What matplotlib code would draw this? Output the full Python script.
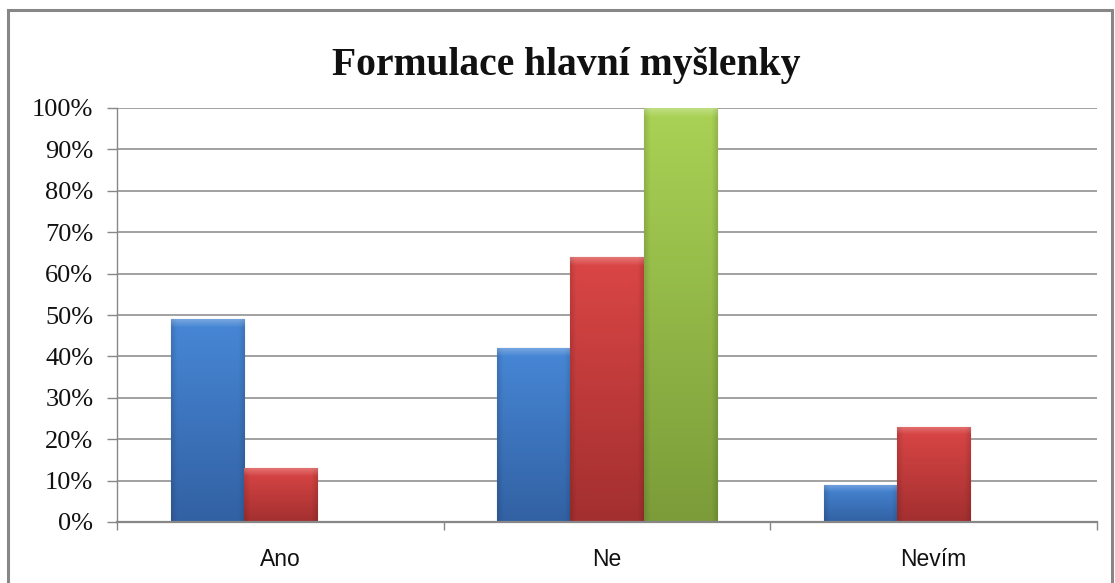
import numpy as np
import matplotlib
matplotlib.use('Agg')
import matplotlib.pyplot as plt
from matplotlib.colors import to_rgb
from matplotlib.patches import Rectangle

# ---- data ----
title = 'Formulace hlavní myšlenky'
categories = ['Ano', 'Ne', 'Nevím']
series_a = [49, 42, 9]     # blue
series_b = [13, 64, 23]    # red
series_c = [0, 100, 0]     # green
yticks = [0, 10, 20, 30, 40, 50, 60, 70, 80, 90, 100]
ytick_labels = [f'{v}%' for v in yticks]

tops = ['#4787D6', '#DB4646', '#A9D255']
bottoms = ['#3261A3', '#A32F2F', '#7B9C39']
edges = ['#2D5A96', '#932A2A', '#6F8D33']

W, H = 1115, 583
fig = plt.figure(figsize=(W / 100, H / 100), dpi=100)
ax = fig.add_axes([117 / W, 1 - 522 / H, (1097 - 117) / W, (522 - 108) / H])

x = np.arange(len(categories))
bw = 0.224
grid_col = '#878787'

for i, vals in enumerate([series_a, series_b, series_c]):
    bars = ax.bar(x + (i - 1) * bw, vals, bw, color=tops[i],
                  edgecolor=edges[i], linewidth=0.8, zorder=3)
    top = np.array(to_rgb(tops[i]))
    bot = np.array(to_rgb(bottoms[i]))
    for b in bars:
        h = b.get_height()
        if h <= 0:
            b.set_visible(False)
            continue
        ny, nx = 200, 60
        t = np.linspace(0, 1, ny)[:, None, None]
        grad = bot + (top - bot) * t
        u = np.linspace(0, 1, nx)
        edge = 1 - 0.12 * (np.clip(1 - np.minimum(u, 1 - u) / 0.08, 0, 1))
        grad = grad * edge[None, :, None]
        # bevel highlight at top
        px_h = h * 4.14
        strip = min(0.5, 8.0 / max(px_h, 1))
        hl = np.clip((t[:, 0, 0] - (1 - strip)) / strip, 0, 1)
        grad = grad + (1 - grad) * (0.25 * hl)[:, None, None]
        grad = np.clip(grad, 0, 1)
        x0, y0 = b.get_x(), b.get_y()
        im = ax.imshow(grad, extent=[x0, x0 + b.get_width(), y0, y0 + h],
                       origin='lower', aspect='auto', interpolation='bilinear',
                       zorder=3.5)
        im.set_clip_path(b)

ax.set_xlim(-0.5, len(categories) - 0.5)
ax.set_ylim(0, 100)
ax.set_yticks(yticks)
ax.set_yticklabels(ytick_labels, family='Liberation Serif', fontsize=19, color='#111111')
ax.set_xticks(x)
ax.set_xticklabels(categories, family='Liberation Sans', fontsize=16.5, color='#111111')
ax.set_xticks(np.arange(len(categories) + 1) - 0.5, minor=True)
ax.tick_params(axis='x', which='major', length=0, pad=19)
ax.tick_params(axis='x', which='minor', length=6, width=1.0, color=grid_col)
ax.tick_params(axis='y', length=7, width=1.0, color=grid_col, pad=10)

ax.set_axisbelow(True)
ax.yaxis.grid(True, color=grid_col, linewidth=1.1)
for s in ['top', 'right']:
    ax.spines[s].set_visible(False)
ax.spines['left'].set_color(grid_col)
ax.spines['left'].set_linewidth(1.0)
ax.spines['bottom'].set_color(grid_col)
ax.spines['bottom'].set_linewidth(1.6)
ax.spines['bottom'].set_zorder(4)

fig.text(566 / W, 1 - 75 / H, title, ha='center', va='baseline',
         family='Liberation Serif', fontweight='bold', fontsize=28.5, color='#111111')

fig.patches.append(Rectangle((8 / W, -0.02), (1112 - 8) / W, (H - 10) / H + 0.02,
                             transform=fig.transFigure, fill=False,
                             edgecolor=grid_col, linewidth=2.2))

fig.savefig('out.png', dpi=100)
